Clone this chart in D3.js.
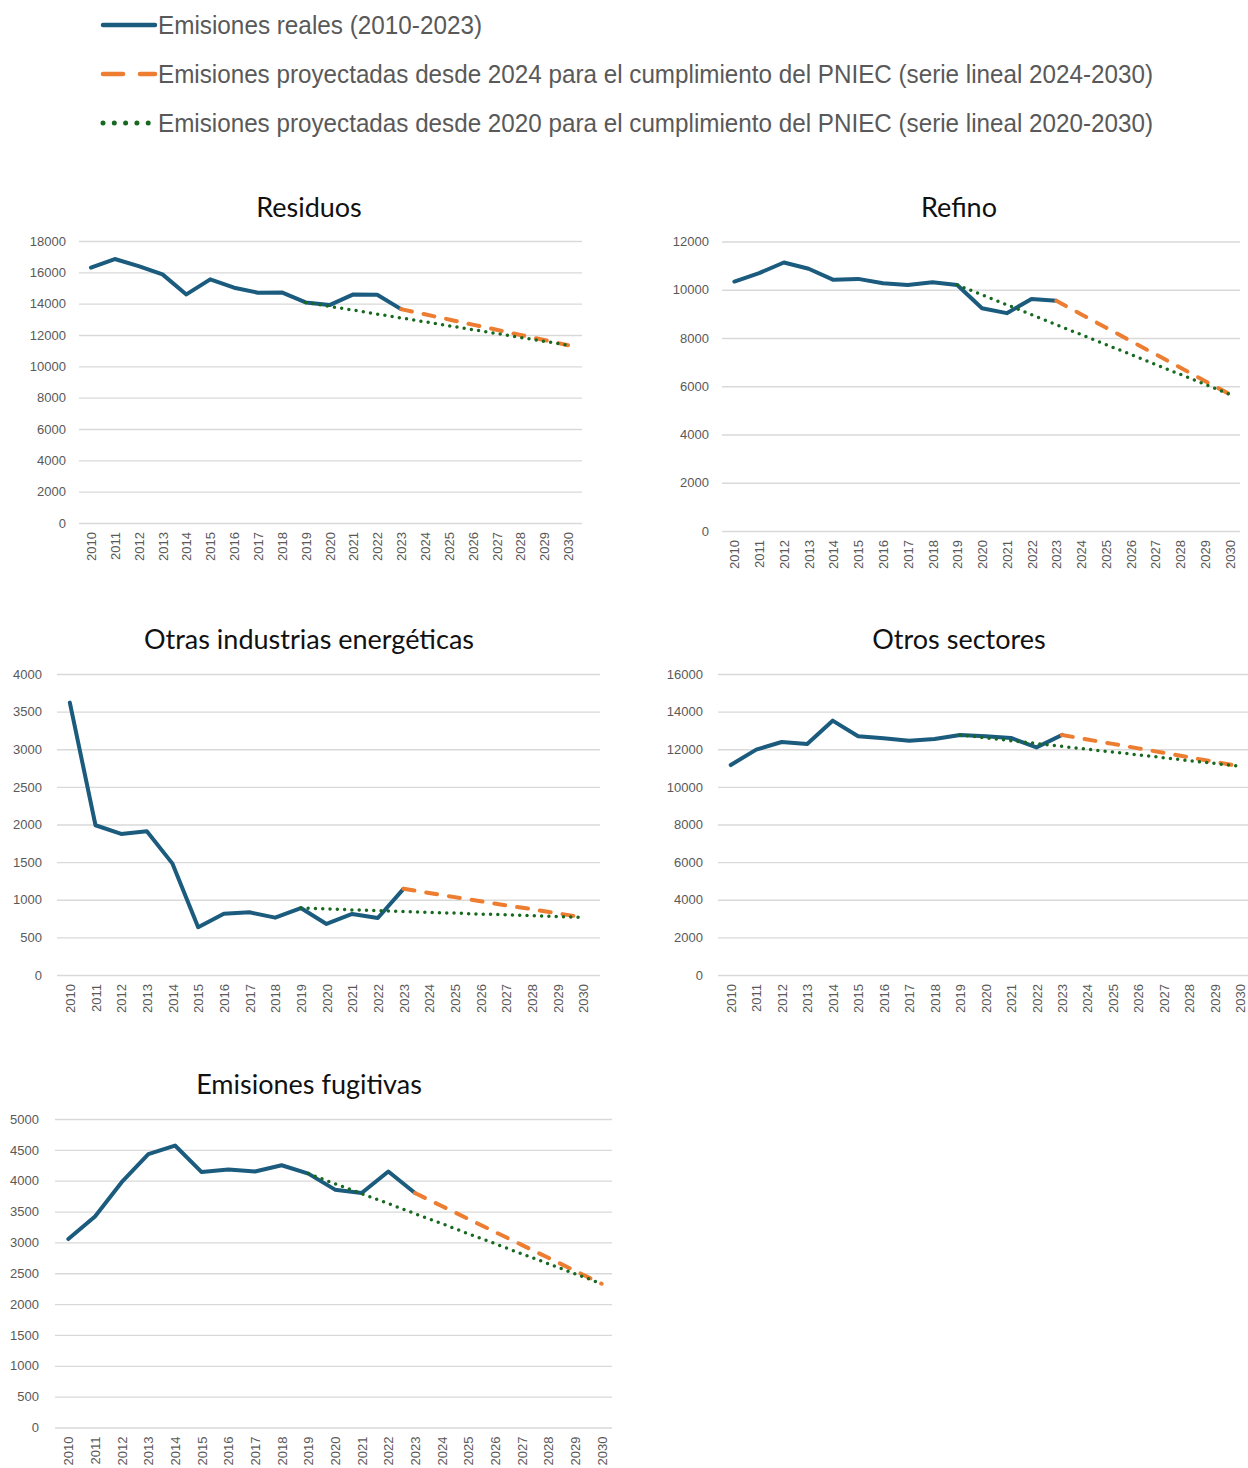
<!DOCTYPE html>
<html>
<head>
<meta charset="utf-8">
<script src="https://cdn.jsdelivr.net/npm/d3@7"></script>
<style>
  body { margin: 0; background: #ffffff; }
  svg { display: block; }
</style>
</head>
<body>
<svg id="chart" width="1248" height="1468"></svg>
<script>
// ---- Categories ----
const years = ["2010","2011","2012","2013","2014","2015","2016","2017","2018","2019","2020",
               "2021","2022","2023","2024","2025","2026","2027","2028","2029","2030"];
const realYears = ["2010","2011","2012","2013","2014","2015","2016","2017","2018","2019","2020","2021","2022","2023"];
const proy2024Years = ["2023","2024","2025","2026","2027","2028","2029","2030"];
const proy2020Years = ["2019","2020","2021","2022","2023","2024","2025","2026","2027","2028","2029","2030"];

// ---- Legend labels ----
const legendLabels = [
  "Emisiones reales (2010-2023)",
  "Emisiones proyectadas desde 2024 para el cumplimiento del PNIEC (serie lineal 2024-2030)",
  "Emisiones proyectadas desde 2020 para el cumplimiento del PNIEC (serie lineal 2020-2030)"
];

// ---- Residuos ----
const residuosReal = [16300,16850,16400,15870,14590,15550,15020,14700,14720,14080,13910,14590,14570,13650];
const residuosProy2024 = [13650,13320,12990,12665,12335,12005,11680,11350];
const residuosProy2020 = [14080,13830,13585,13335,13090,12840,12590,12345,12095,11845,11600,11350];
const residuosTicks = [0,2000,4000,6000,8000,10000,12000,14000,16000,18000];

// ---- Refino ----
const refinoReal = [10340,10690,11130,10870,10410,10450,10270,10200,10310,10200,9235,9030,9620,9540];
const refinoProy2024 = [9540,8985,8435,7880,7330,6775,6220,5670];
const refinoProy2020 = [10200,9790,9380,8965,8555,8140,7730,7320,6905,6495,6080,5670];
const refinoTicks = [0,2000,4000,6000,8000,10000,12000];

// ---- Otras industrias energéticas ----
const otrasReal = [3620,1990,1875,1910,1480,635,815,833,762,890,678,811,757,1145];
const otrasProy2024 = [1145,1090,1035,980,925,875,820,765];
const otrasProy2020 = [890,880,865,855,845,833,822,810,800,788,776,765];
const otrasTicks = [0,500,1000,1500,2000,2500,3000,3500,4000];

// ---- Otros sectores ----
const otrosReal = [11160,11980,12385,12280,13520,12690,12580,12455,12545,12760,12690,12600,12100,12760];
const otrosProy2024 = [12760,12520,12285,12045,11810,11570,11330,11090];
const otrosProy2020 = [12760,12605,12455,12305,12155,12000,11850,11700,11550,11395,11245,11090];
const otrosTicks = [0,2000,4000,6000,8000,10000,12000,14000,16000];

// ---- Emisiones fugitivas ----
const fugitivasReal = [3055,3420,3975,4430,4570,4140,4180,4150,4250,4115,3855,3800,4150,3800];
const fugitivasProy2024 = [3800,3590,3380,3170,2960,2750,2540,2330];
const fugitivasProy2020 = [4115,3950,3790,3630,3465,3305,3140,2980,2815,2655,2490,2330];
const fugitivasTicks = [0,500,1000,1500,2000,2500,3000,3500,4000,4500,5000];

// ---- Styles ----
const COLOR_REAL = "#1b5b7d";
const COLOR_P24 = "#ed7d31";
const COLOR_P20 = "#17691f";
const GRID = "#d9d9d9";
const TEXT_GRAY = "#595959";

const svg = d3.select("#chart");

// Legend
const legend = svg.append("g").attr("class", "legend");
const legendRows = [
  { y: 25, color: COLOR_REAL, width: 4.5, dash: null, x2: 155, textLen: 324 },
  { y: 74, color: COLOR_P24, width: 4.5, dash: "20,17", x2: 155, textLen: 995 },
  { y: 123, color: COLOR_P20, width: 5, dash: "0,11.3", x2: 150, textLen: 995 }
];
legendRows.forEach((r, i) => {
  legend.append("line")
    .attr("x1", 103).attr("x2", r.x2).attr("y1", r.y).attr("y2", r.y)
    .attr("stroke", r.color).attr("stroke-width", r.width)
    .attr("stroke-linecap", "round")
    .attr("stroke-dasharray", r.dash);
  legend.append("text")
    .attr("x", 158).attr("y", r.y + 8.5)
    .attr("font-family", "'Liberation Sans Narrow', 'Liberation Sans', Arial, sans-serif")
    .attr("font-size", 25)
    .attr("fill", TEXT_GRAY)
    .attr("textLength", r.textLen)
    .attr("lengthAdjust", "spacingAndGlyphs")
    .text(legendLabels[i]);
});

// Panel definitions
const panels = [
  { title: "Residuos", real: residuosReal, p24: residuosProy2024, p20: residuosProy2020, ticks: residuosTicks,
    x0: 79, x1: 580, gridEnd: 582, yTop: 241, yBot: 523, labelRight: 66, titleX: 309, titleY: 216.5 },
  { title: "Refino", real: refinoReal, p24: refinoProy2024, p20: refinoProy2020, ticks: refinoTicks,
    x0: 722, x1: 1242, gridEnd: 1240, yTop: 241.5, yBot: 531, labelRight: 709, titleX: 959, titleY: 216.5 },
  { title: "Otras industrias energéticas", real: otrasReal, p24: otrasProy2024, p20: otrasProy2020, ticks: otrasTicks,
    x0: 57, x1: 596, gridEnd: 600, yTop: 674, yBot: 975, labelRight: 42, titleX: 309, titleY: 648.5 },
  { title: "Otros sectores", real: otrosReal, p24: otrosProy2024, p20: otrosProy2020, ticks: otrosTicks,
    x0: 718, x1: 1253, gridEnd: 1260, yTop: 674, yBot: 975, labelRight: 703, titleX: 959, titleY: 648.5 },
  { title: "Emisiones fugitivas", real: fugitivasReal, p24: fugitivasProy2024, p20: fugitivasProy2020, ticks: fugitivasTicks,
    x0: 55, x1: 615, gridEnd: 612, yTop: 1119, yBot: 1427.5, labelRight: 39, titleX: 309, titleY: 1093.5 }
];

panels.forEach(p => {
  const g = svg.append("g").attr("class", "panel");

  const x = d3.scalePoint().domain(years).range([p.x0, p.x1]).padding(0.5);
  const y = d3.scaleLinear().domain([0, d3.max(p.ticks)]).range([p.yBot, p.yTop]);

  // Title
  g.append("text")
    .attr("x", p.titleX).attr("y", p.titleY)
    .attr("text-anchor", "middle")
    .attr("font-family", "Lato, 'Open Sans', sans-serif")
    .attr("font-size", 27)
    .attr("fill", "#111")
    .text(p.title);

  // Value axis with horizontal gridlines
  const yAxis = d3.axisLeft(y)
    .tickValues(p.ticks)
    .tickFormat(d3.format("d"))
    .tickSize(-(p.gridEnd - p.x0))
    .tickPadding(p.x0 - p.labelRight);
  const ya = g.append("g").attr("transform", `translate(${p.x0},0)`).call(yAxis);
  ya.select(".domain").remove();
  ya.selectAll(".tick line").attr("stroke", GRID).attr("stroke-width", 1.3);
  ya.selectAll(".tick text")
    .attr("font-family", "'Liberation Sans', Arial, sans-serif")
    .attr("font-size", 13).attr("fill", TEXT_GRAY);

  // Category axis with rotated year labels
  const xAxis = d3.axisBottom(x).tickSize(0);
  const xa = g.append("g").attr("transform", `translate(0,${p.yBot})`).call(xAxis);
  xa.select(".domain").remove();
  xa.selectAll(".tick text")
    .attr("font-family", "'Liberation Sans', Arial, sans-serif")
    .attr("font-size", 13).attr("fill", TEXT_GRAY)
    .attr("transform", "rotate(-90)")
    .attr("x", -9).attr("y", 0).attr("dy", "0.35em")
    .style("text-anchor", "end");

  const line = d3.line().x(d => x(d[0])).y(d => y(d[1]));

  // Real emissions
  g.append("path")
    .datum(d3.zip(realYears, p.real))
    .attr("d", line).attr("fill", "none")
    .attr("stroke", COLOR_REAL).attr("stroke-width", 4)
    .attr("stroke-linejoin", "round").attr("stroke-linecap", "round");

  // Linear projection from 2024
  g.append("path")
    .datum(d3.zip(proy2024Years, p.p24))
    .attr("d", line).attr("fill", "none")
    .attr("stroke", COLOR_P24).attr("stroke-width", 4)
    .attr("stroke-dasharray", "11,12").attr("stroke-linecap", "round");

  // Linear projection from 2020
  g.append("path")
    .datum(d3.zip(proy2020Years, p.p20))
    .attr("d", line).attr("fill", "none")
    .attr("stroke", COLOR_P20).attr("stroke-width", 3.5)
    .attr("stroke-dasharray", "0,7.3").attr("stroke-linecap", "round");
});
</script>
</body>
</html>
